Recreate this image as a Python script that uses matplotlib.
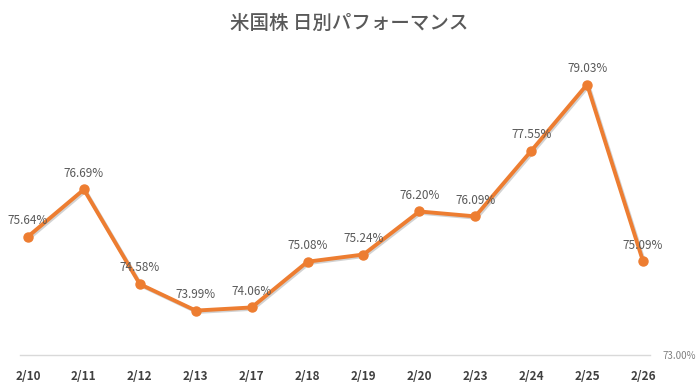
import matplotlib
matplotlib.use("Agg")
import matplotlib.pyplot as plt
import matplotlib.patheffects as pe

plt.rcParams['font.family'] = ['Noto Sans CJK JP', 'DejaVu Sans']

dates = ["2/10", "2/11", "2/12", "2/13", "2/17", "2/18", "2/19", "2/20", "2/23", "2/24", "2/25", "2/26"]
values = [75.64, 76.69, 74.58, 73.99, 74.06, 75.08, 75.24, 76.20, 76.09, 77.55, 79.03, 75.09]

fig = plt.figure(figsize=(6.98, 3.92), dpi=100)
ax = fig.add_axes([20 / 698, 37 / 392, 630 / 698, 314 / 392])

x = list(range(len(dates)))
shadow = [pe.SimpleLineShadow(offset=(1, -1), shadow_color="gray", alpha=0.35), pe.Normal()]
ax.plot(x, values, "-", color="#ED7D31", linewidth=2.8, path_effects=shadow, zorder=3)
ax.plot(x, values, "o", color="#ED7D31", markersize=6.5, zorder=4)

for xi, v in zip(x, values):
    ax.annotate(f"{v:.2f}%", (xi, v), xytext=(0, 7), textcoords="offset points",
                ha="center", va="bottom", fontsize=8.5, color="#595959")

ax.set_xlim(-0.143, 11.125)
ax.set_ylim(73, 80.0)

for s in ["top", "left", "right"]:
    ax.spines[s].set_visible(False)
ax.spines["bottom"].set_color("#D9D9D9")
ax.spines["bottom"].set_linewidth(1)

ax.set_xticks(x)
ax.set_xticklabels(dates, fontsize=8.5, fontweight="bold", color="#404040")
ax.tick_params(axis="x", length=0, pad=11)

ax.yaxis.tick_right()
ax.set_yticks([73])
ax.set_yticklabels(["73.00%"], fontsize=7, color="#808080")
ax.tick_params(axis="y", length=0, pad=9)

fig.text(0.5, 0.94, "米国株 日別パフォーマンス", ha="center", va="center",
         fontsize=14, color="#595959", fontweight="medium")

fig.savefig("out.png", dpi=100)
